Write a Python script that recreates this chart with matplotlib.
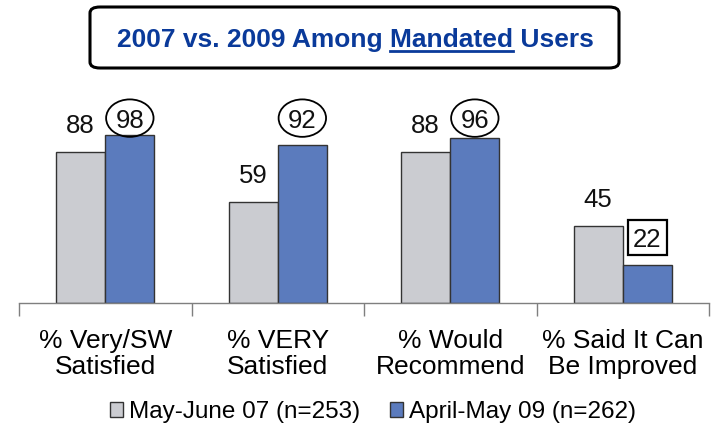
import matplotlib
matplotlib.use("Agg")
import matplotlib.pyplot as plt
from matplotlib.patches import Ellipse, Rectangle, FancyBboxPatch
from matplotlib.lines import Line2D
import numpy as np

categories = ["% Very/SW\nSatisfied", "% VERY\nSatisfied", "% Would\nRecommend", "% Said It Can\nBe Improved"]
series_names = ["May-June 07 (n=253)", "April-May 09 (n=262)"]
values_2007 = [88, 59, 88, 45]
values_2009 = [98, 92, 96, 22]
highlight_2009 = ["circle", "circle", "circle", "box"]
title_pre = "2007 vs. 2009 Among "
title_mid = "Mandated"
title_post = " Users"

GRAY = "#CBCCD1"
BLUE = "#5B7BBD"
EDGE = "#333333"
TITLE_BLUE = "#0A3A9A"
FONT = "Liberation Sans"

plt.rcParams["font.family"] = [FONT, "DejaVu Sans"]

W, H, DPI = 717, 428, 100
fig = plt.figure(figsize=(W / DPI, H / DPI), dpi=DPI)
ax = fig.add_axes([19 / W, 1 - 303 / H, 690 / W, (303 - 114) / H])

x = np.arange(len(categories))
bw = 0.285
b1 = ax.bar(x - bw / 2, values_2007, bw, color=GRAY, edgecolor=EDGE, linewidth=1.0, label=series_names[0])
b2 = ax.bar(x + bw / 2, values_2009, bw, color=BLUE, edgecolor=EDGE, linewidth=1.0, label=series_names[1])

ax.set_xlim(-0.5, len(categories) - 0.5)
ax.set_ylim(0, 110)

for s in ["top", "right", "left"]:
    ax.spines[s].set_visible(False)
ax.spines["bottom"].set_color("#7F7F7F")
ax.spines["bottom"].set_linewidth(1.0)
ax.set_yticks([])
ax.set_xticks(np.arange(len(categories) + 1) - 0.5)
ax.set_xticklabels([])
ax.tick_params(axis="x", which="major", length=9, width=1.0, color="#7F7F7F", direction="out")
ax.set_xticks(x, minor=True)
ax.set_xticklabels(categories, minor=True, fontsize=19, linespacing=1.08)
ax.tick_params(axis="x", which="minor", length=0, pad=19)

CAP = 107.3   # ceiling for label centre (data units)
OFF = 16.3    # label centre above bar top
for xi, v in zip(x - bw / 2, values_2007):
    yc = min(v + OFF, CAP)
    ax.text(xi, yc, str(v), ha="center", va="center_baseline", fontsize=18.5, color="#111111")
for xi, v, hl in zip(x + bw / 2, values_2009, highlight_2009):
    yc = min(v + OFF, CAP)
    ax.text(xi, yc, str(v), ha="center", va="center_baseline", fontsize=18.5, color="#111111", zorder=5)
    if hl == "circle":
        ax.add_patch(Ellipse((xi, yc + 0.3), 0.275, 21.8, fill=False, edgecolor="black", linewidth=1.3, zorder=6, clip_on=False))
    else:
        ax.add_patch(Rectangle((xi - 0.113, yc - 10.2), 0.226, 20.4, fill=False, edgecolor="black", linewidth=1.6, zorder=6, clip_on=False))

# legend
leg = fig.legend(handles=[b1, b2], labels=series_names, loc="center", bbox_to_anchor=(373 / W, 1 - 412 / H),
                 ncol=2, frameon=False, fontsize=17.5, handlelength=0.55, handleheight=0.55,
                 handletextpad=0.25, columnspacing=1.2, borderaxespad=0)

# title box
box = FancyBboxPatch((90 / W, 1 - 68 / H), (619 - 90) / W, (68 - 7) / H,
                     boxstyle="round,pad=0,rounding_size=0.014", transform=fig.transFigure,
                     facecolor="white", edgecolor="black", linewidth=2.2)
fig.patches.append(box)

renderer = fig.canvas.get_renderer()
tkw = dict(fontsize=19, fontweight="bold", color=TITLE_BLUE)
full = title_pre + title_mid + title_post
tmp = fig.text(0, 0, full, **tkw)
w_full = tmp.get_window_extent(renderer).width
tmp.remove()
tmp = fig.text(0, 0, title_pre + title_mid, **tkw)
w_end = tmp.get_window_extent(renderer).width
tmp.remove()
tmp = fig.text(0, 0, title_mid, **tkw)
w_mid = tmp.get_window_extent(renderer).width
tmp.remove()

cx = 355
x0 = cx - w_full / 2
ybase = 47
fig.text(x0 / W, 1 - ybase / H, full, ha="left", va="baseline", **tkw)
uy = 1 - (ybase + 4) / H
fig.add_artist(Line2D([(x0 + w_end - w_mid) / W, (x0 + w_end) / W], [uy, uy],
                      transform=fig.transFigure, color=TITLE_BLUE, linewidth=2.0))

fig.savefig("out.png", dpi=DPI)
